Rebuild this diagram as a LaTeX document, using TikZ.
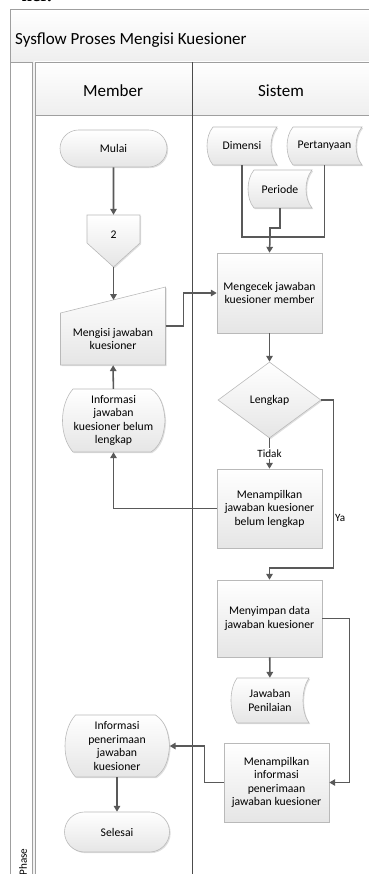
\documentclass[tikz,border=0pt]{standalone}
\usepackage{fontspec}
\setmainfont{Carlito}
\newfontfamily\cutfont{Liberation Serif}
\usetikzlibrary{shapes.geometric,shapes.misc,arrows.meta,shadows}
\tikzset{
  lane/.style={draw=gray!75, line width=.7pt},
  band/.style={top color=white, bottom color=gray!13},
  head/.style={font=\fontsize{14.5}{16}\selectfont, inner sep=0pt},
  shp/.style={draw=gray!55, line width=.5pt, top color=white, bottom color=gray!20,
    drop shadow={shadow xshift=1pt, shadow yshift=-1pt, opacity=.25}},
  txt/.style={align=center, font=\fontsize{10}{11.5}\selectfont, inner sep=0pt},
  wh/.style 2 args={minimum width=#1*0.03cm, minimum height=#2*0.03cm},
  procbox/.style={shp, txt, rectangle},
  termbox/.style={shp, txt, rounded rectangle},
  decbox/.style={shp, txt, diamond},
  flow/.style={draw=black!65, line width=1.3pt, -{Triangle[length=5pt,width=5.5pt]}},
  link/.style={draw=black!65, line width=1.3pt},
  lbl/.style={font=\fontsize{9.5}{11}\selectfont, inner sep=1pt}
}
\newcommand\storedshape[4]{%
  \path[shp] ({#1-#3/2+6},{#2-#4/2}) -- ({#1+#3/2},{#2-#4/2})
    .. controls ({#1+#3/2-8},{#2-#4/4}) and ({#1+#3/2-8},{#2+#4/4}) .. ({#1+#3/2},{#2+#4/2})
    -- ({#1-#3/2+6},{#2+#4/2})
    .. controls ({#1-#3/2-2},{#2+#4/4}) and ({#1-#3/2-2},{#2-#4/4}) .. cycle;}
\newcommand\dispshape[4]{%
  \path[shp] ({#1-#3/2+11},{#2-#4/2}) -- ({#1+#3/2-14},{#2-#4/2})
    .. controls ({#1+#3/2-5},{#2-#4/2+6}) and ({#1+#3/2-1},{#2-#4/4}) .. ({#1+#3/2},{#2})
    .. controls ({#1+#3/2-1},{#2+#4/4}) and ({#1+#3/2-5},{#2+#4/2-6}) .. ({#1+#3/2-14},{#2+#4/2})
    -- ({#1-#3/2+11},{#2+#4/2})
    .. controls ({#1-#3/2-3},{#2+#4/4}) and ({#1-#3/2-3},{#2-#4/4}) .. cycle;}
\begin{document}
\begin{tikzpicture}[x=0.03cm, y=-0.03cm]
\useasboundingbox (0,0) rectangle (369,874);
\path[band] (10,9) rectangle (380,62);
\path[band] (34,62) rectangle (380,115);
\draw[lane] (380,9) -- (10,9) -- (10,900);
\draw[lane] (10,62) -- (380,62);
\draw[lane] (34,115) -- (380,115);
\draw[lane, double=gray!10, double distance=1.2pt] (34,62) -- (34,900);
\draw[draw=black!70, line width=.6pt] (192,62) -- (192,900);
\node[anchor=base east, font=\cutfont\bfseries\fontsize{16}{16}\selectfont, inner sep=0pt] (cut) at (52,1.5) {ner.};
\node[anchor=base west, head] (title) at (15,45) {Sysflow Proses Mengisi Kuesioner};
\node[anchor=base, head] (member) at (113,97) {Member};
\node[anchor=base, head] (sistem) at (281,97) {Sistem};
\node[rotate=90, lbl] (phase) at (23,862) {Phase};
\node[termbox, wh={107}{37}] (mulai) at (113.5,148.5) {Mulai};
\path[shp] (87,215) -- (140,215) -- (140,243) -- (113.5,267) -- (87,243) -- cycle;
\node[txt, wh={53}{40}] (off2) at (113.5,235) {2};
\coordinate (off2tip) at (113.5,267);
\path[shp] (60.5,313) -- (165.5,287) -- (165.5,365) -- (60.5,365) -- cycle;
\node[txt, wh={105}{52}] (isi) at (113,339) {Mengisi jawaban\\kuesioner};
\coordinate (isitop) at (113.5,300);
\dispshape{113.5}{420.5}{103}{63}
\node[txt, wh={103}{63}] (info) at (113.5,420.5) {Informasi\\jawaban\\kuesioner belum\\lengkap};
\dispshape{117}{746}{105}{62}
\node[txt, wh={105}{62}] (info2) at (117,746) {Informasi\\penerimaan\\jawaban\\kuesioner};
\node[termbox, wh={105}{40}] (selesai) at (117,832) {Selesai};
\storedshape{242}{146}{70}{38}
\node[txt, wh={70}{38}] (dim) at (242,146) {Dimensi};
\storedshape{324.5}{146}{75}{38}
\node[txt, wh={75}{38}] (tanya) at (324.5,146) {Pertanyaan};
\storedshape{280}{189}{64}{38}
\node[txt, wh={64}{38}] (per) at (280,189) {Periode};
\coordinate (gabung) at (270,237);
\node[procbox, wh={105}{80}] (cek) at (269.5,293) {Mengecek jawaban\\kuesioner member};
\node[decbox, wh={103}{76}] (lengkap) at (269.5,400) {Lengkap};
\node[procbox, wh={105}{79}] (tampil) at (269.5,508.5) {Menampilkan\\jawaban kuesioner\\belum lengkap};
\node[procbox, wh={105}{77}] (simpan) at (269.5,618.5) {Menyimpan data\\jawaban kuesioner};
\storedshape{270}{700.5}{78}{45}
\node[txt, wh={78}{45}] (jawab) at (270,700.5) {Jawaban\\Penilaian};
\node[procbox, wh={105}{79}] (tampil2) at (276.5,782.5) {Menampilkan\\informasi\\penerimaan\\jawaban kuesioner};
\draw[flow] (mulai) -- (off2);
\draw[flow] (off2tip) -- (isitop);
\draw[flow] ([yshift=3.9mm]isi.east) -- ++(18,0) |- (cek);
\draw[flow] (info) -- (isi);
\draw[flow] (tampil.west) -| (info.south);
\draw[link] (dim.south) |- (gabung) -| (tanya.south);
\draw[link] (per.south) -- ++(0,20) -| (gabung);
\draw[flow] (gabung) -- (cek.north);
\draw[flow] (cek) -- (lengkap);
\draw[flow] (lengkap) -- node[lbl, fill=white] (tidak) {Tidak} (tampil);
\draw[flow] (lengkap.east) -- ++(12,0) -- node[lbl, right, pos=.7] (ya) {Ya} ++(0,168) -| (simpan.north);
\draw[flow] (simpan) -- (jawab);
\draw[flow] (simpan.east) -- ++(27,0) |- (tampil2.east);
\draw[flow] (tampil2.west) -- ++(-19,0) |- (info2.east);
\draw[flow] (info2) -- (selesai);
\end{tikzpicture}
\end{document}
